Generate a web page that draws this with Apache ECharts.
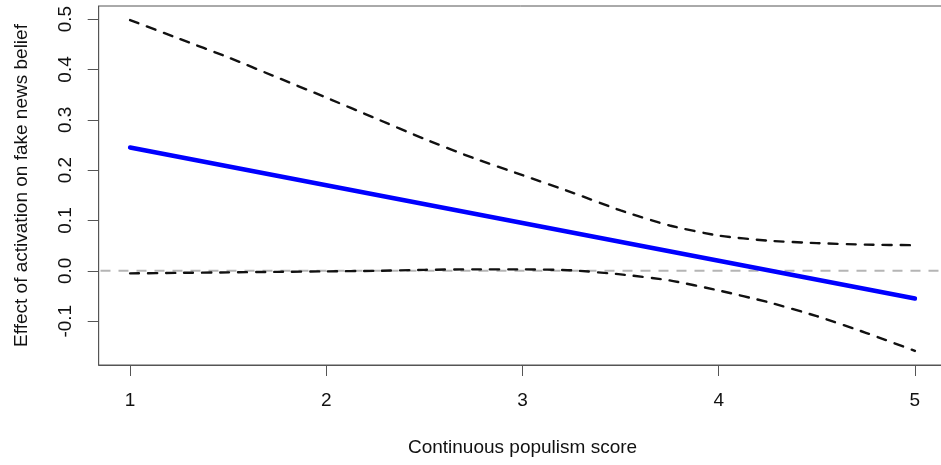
<!DOCTYPE html>
<html>
<head>
<meta charset="utf-8">
<script src="https://cdn.jsdelivr.net/npm/echarts@6/dist/echarts.min.js"></script>
<style>
html,body{margin:0;padding:0;background:#fff;}
#c{width:941px;height:465px;}
</style>
</head>
<body>
<div id="c"></div>
<script>
// ---- data ----
var ciX = [1, 1.25, 1.5, 1.75, 2, 2.25, 2.5, 2.75, 3, 3.25, 3.5, 3.75, 4, 4.25, 4.5, 4.75, 5];
var upperCI = [0.498, 0.461, 0.424, 0.384, 0.344, 0.303, 0.262, 0.224, 0.190, 0.156, 0.120, 0.090, 0.070, 0.060, 0.055, 0.052, 0.051];
var lowerCI = [-0.005, -0.004, -0.003, -0.002, -0.001, 0.000, 0.002, 0.003, 0.003, 0.001, -0.007, -0.019, -0.039, -0.062, -0.090, -0.123, -0.159];
var effX = [1, 2, 3, 4, 5];
var effect = [0.245, 0.170, 0.095, 0.020, -0.055];
var refValue = 0;
var xTicks = [1, 2, 3, 4, 5];
var yTicks = [-0.1, 0.0, 0.1, 0.2, 0.3, 0.4, 0.5];
var xLabel = 'Continuous populism score';
var yLabel = 'Effect of activation on fake news belief';

// axis ranges (R's 4% extension)
var xMin = 0.84, xMax = 5.16;
var yMin = -0.187, yMax = 0.526;

function pairs(xs, ys) { return xs.map(function (x, i) { return [x, ys[i]]; }); }

var FONT = 'Liberation Sans, Arial, Helvetica, sans-serif';
var FS = 19;
var axisCol = '#555';

var chart = echarts.init(document.getElementById('c'), null, {renderer: 'canvas'});
chart.setOption({
  animation: false,
  backgroundColor: '#fff',
  grid: {left: 98.7, top: 6, right: -5.3, bottom: 100, show: true, borderColor: axisCol, borderWidth: 1,
    containLabel: false, outerBoundsMode: 'none'},
  xAxis: {
    type: 'value', min: xMin, max: xMax,
    name: xLabel, nameLocation: 'middle', nameGap: 73,
    nameTextStyle: {fontFamily: FONT, fontSize: FS, color: '#111'},
    axisLine: {show: true, onZero: false, lineStyle: {color: axisCol, width: 1}},
    axisTick: {show: true, length: 11, inside: false, customValues: xTicks, lineStyle: {color: axisCol}},
    axisLabel: {show: true, margin: 26, customValues: xTicks, fontFamily: FONT, fontSize: FS, color: '#111',
      formatter: function (v) { return String(v); }},
    splitLine: {show: false}
  },
  yAxis: {
    type: 'value', min: yMin, max: yMax,
    name: yLabel, nameLocation: 'middle', nameGap: 67, nameRotate: 90,
    nameTextStyle: {fontFamily: FONT, fontSize: FS, color: '#111'},
    axisLine: {show: true, onZero: false, lineStyle: {color: axisCol, width: 1}},
    axisTick: {show: true, length: 11, customValues: yTicks, lineStyle: {color: axisCol}},
    axisLabel: {show: true, rotate: 90, margin: 23, customValues: yTicks, fontFamily: FONT, fontSize: FS, color: '#111',
      formatter: function (v) { return v.toFixed(1); }},
    splitLine: {show: false}
  },
  series: [
    {
      type: 'line', data: [[xMin - 1, refValue], [xMax + 1, refValue]], symbol: 'none', silent: true,
      lineStyle: {color: '#b5b5b5', width: 2, type: [10, 8]}, z: 1
    },
    {
      type: 'line', data: pairs(ciX, upperCI), symbol: 'none', smooth: 0.2,
      lineStyle: {color: '#111', width: 2.4, type: [9, 9], cap: 'round'}, z: 2
    },
    {
      type: 'line', data: pairs(ciX, lowerCI), symbol: 'none', smooth: 0.2,
      lineStyle: {color: '#111', width: 2.4, type: [9, 9], cap: 'round'}, z: 2
    },
    {
      type: 'line', data: pairs(effX, effect), symbol: 'none',
      lineStyle: {color: '#0000ff', width: 4.5, cap: 'round'}, z: 3
    }
  ]
});
</script>
</body>
</html>
